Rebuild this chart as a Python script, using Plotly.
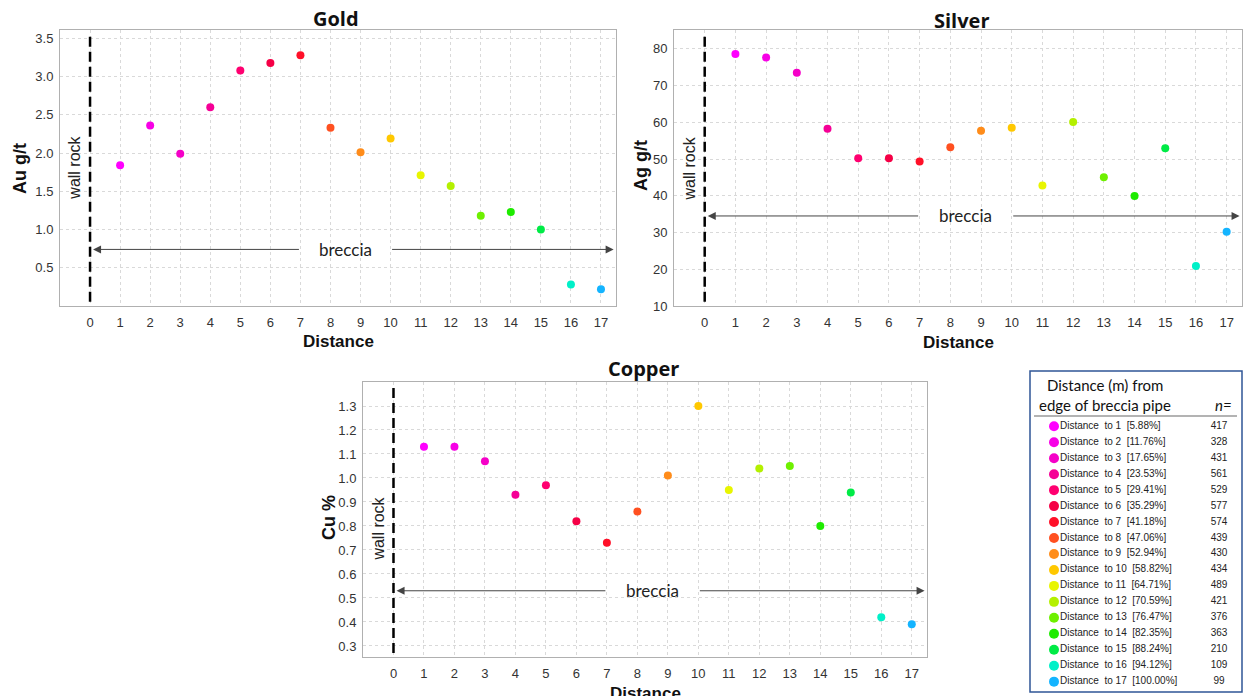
import plotly.graph_objects as go

# Reference picture size; the captured page is 8px taller than the picture and is
# squeezed vertically, so the figure is made 704px tall and positions use REF_H.
REF_W, REF_H = 1246, 696
W, H = 1246, 704

# ---------------- data ----------------
distance = list(range(1, 18))
x_ticks = list(range(0, 18))
gold = [1.84, 2.36, 1.99, 2.60, 3.08, 3.18, 3.28, 2.33, 2.01, 2.19, 1.71, 1.57, 1.18, 1.23, 1.00, 0.28, 0.22]
silver = [78.6, 77.6, 73.5, 58.2, 50.2, 50.2, 49.3, 53.2, 57.7, 58.5, 42.8, 60.1, 45.0, 39.9, 52.9, 20.9, 30.2]
copper = [1.13, 1.13, 1.07, 0.93, 0.97, 0.82, 0.73, 0.86, 1.01, 1.30, 0.95, 1.04, 1.05, 0.80, 0.94, 0.42, 0.39]
colors = ["#FF00FF", "#F700E6", "#F500C8", "#F50096", "#FF0070", "#F50046", "#FF1028",
          "#FF5020", "#FF8C1A", "#FFC800", "#E8F500", "#B4F000", "#6EF000", "#1EEB00",
          "#00EB46", "#00F0C8", "#14B4FF"]
pct_labels = ["5.88%", "11.76%", "17.65%", "23.53%", "29.41%", "35.29%", "41.18%", "47.06%",
              "52.94%", "58.82%", "64.71%", "70.59%", "76.47%", "82.35%", "88.24%", "94.12%",
              "100.00%"]
n_counts = [417, 328, 431, 561, 529, 577, 574, 439, 430, 434, 489, 421, 376, 363, 210, 109, 99]

gold_ticks = [0.5, 1.0, 1.5, 2.0, 2.5, 3.0, 3.5]
silver_ticks = [10, 20, 30, 40, 50, 60, 70, 80]
copper_ticks = [0.3, 0.4, 0.5, 0.6, 0.7, 0.8, 0.9, 1.0, 1.1, 1.2, 1.3]

# ---------------- helpers (reference pixels -> paper fractions) ----------------
def px(x):
    return x / REF_W

def py(y):
    return 1 - y / REF_H

TICKFONT = dict(family="Liberation Sans, Arial, sans-serif", size=13, color="#333333")
AXTITLE = dict(family="Liberation Sans, Arial, sans-serif", size=17, color="#111111")
TITLEFONT = dict(family="Open Sans, sans-serif", size=20, color="#111111")
NOTEFONT = dict(family="Lato, sans-serif", size=17, color="#222222")
WALLFONT = dict(family="Liberation Sans, Arial, sans-serif", size=16, color="#222222")

panels = [
    dict(name="Gold", ytitle="Au g/t", vals=gold, ticks=gold_ticks, fmt=".1f",
         dom=(60, 616, 30, 306), yr=(0.0, 3.61), arrow_y=0.74, wall_y=1.81,
         title_xy=(336, 19), ytitle_xy=(20, 168), xtitle_xy=(338, 341)),
    dict(name="Silver", ytitle="Ag g/t", vals=silver, ticks=silver_ticks, fmt="d",
         dom=(674, 1242, 30, 306), yr=(10, 85.1), arrow_y=34.5, wall_y=47.5,
         title_xy=(962, 20), ytitle_xy=(641, 166), xtitle_xy=(958, 342)),
    dict(name="Copper", ytitle="Cu %", vals=copper, ticks=copper_ticks, fmt=".1f",
         dom=(363, 927, 382, 657), yr=(0.254, 1.40), arrow_y=0.53, wall_y=0.79,
         title_xy=(643, 368), ytitle_xy=(329, 518), xtitle_xy=(645, 693)),
]

fig = go.Figure()
annotations = []
shapes = []
layout_axes = {}

for i, p in enumerate(panels):
    k = "" if i == 0 else str(i + 1)
    xa, ya = "x" + k, "y" + k
    x0, x1, y0, y1 = p["dom"]
    layout_axes["xaxis" + k] = dict(
        domain=[px(x0), px(x1)], range=[-1, 17.5], anchor=ya,
        tickvals=x_ticks, tickfont=TICKFONT, showgrid=True, gridcolor="#d9d9d9",
        griddash="dot", gridwidth=1, showline=True, linecolor="#b0b0b0", linewidth=1,
        mirror=True, ticks="outside", ticklen=4, tickcolor="rgba(0,0,0,0)", zeroline=False,
    )
    layout_axes["yaxis" + k] = dict(
        domain=[py(y1), py(y0)], range=list(p["yr"]), anchor=xa,
        tickvals=p["ticks"], tickformat=p["fmt"], tickfont=TICKFONT, showgrid=True,
        gridcolor="#d9d9d9", griddash="dot", gridwidth=1, showline=True,
        linecolor="#b0b0b0", linewidth=1, mirror=True, ticks="outside", ticklen=3,
        tickcolor="rgba(0,0,0,0)", zeroline=False,
    )
    fig.add_trace(go.Scatter(
        x=distance, y=p["vals"], mode="markers", xaxis=xa, yaxis=ya,
        marker=dict(color=colors, size=8, line=dict(width=0)), showlegend=False,
        hoverinfo="x+y",
    ))
    # dashed wall line at x = 0
    shapes.append(dict(type="line", xref=xa, yref=ya + " domain", x0=0, x1=0,
                       y0=0.015, y1=0.99, line=dict(color="black", width=2.5, dash="10px,5px")))
    # titles
    annotations.append(dict(text="<b>%s</b>" % p["name"], xref="paper", yref="paper",
                            x=px(p["title_xy"][0]), y=py(p["title_xy"][1]),
                            xanchor="center", yanchor="middle", showarrow=False, font=TITLEFONT))
    annotations.append(dict(text="<b>%s</b>" % p["ytitle"], xref="paper", yref="paper",
                            x=px(p["ytitle_xy"][0]), y=py(p["ytitle_xy"][1]), textangle=-90,
                            xanchor="center", yanchor="middle", showarrow=False,
                            font=dict(AXTITLE, size=18)))
    annotations.append(dict(text="<b>Distance</b>", xref="paper", yref="paper",
                            x=px(p["xtitle_xy"][0]), y=py(p["xtitle_xy"][1]),
                            xanchor="center", yanchor="middle", showarrow=False, font=AXTITLE))
    # wall rock label
    annotations.append(dict(text="wall rock", xref=xa, yref=ya, x=-0.5, y=p["wall_y"],
                            textangle=-90, showarrow=False, xanchor="center", yanchor="middle",
                            font=WALLFONT))
    # breccia arrows and label
    ay = p["arrow_y"]
    annotations.append(dict(text="", xref=xa, yref=ya, x=0.1, y=ay, axref=xa, ayref=ya,
                            ax=7.0, ay=ay, showarrow=True, arrowhead=2, arrowsize=1.6,
                            arrowwidth=1, arrowcolor="#444444", standoff=0))
    annotations.append(dict(text="", xref=xa, yref=ya, x=17.42, y=ay, axref=xa, ayref=ya,
                            ax=10.0, ay=ay, showarrow=True, arrowhead=2, arrowsize=1.6,
                            arrowwidth=1, arrowcolor="#444444", standoff=0))
    annotations.append(dict(text="breccia", xref=xa, yref=ya, x=8.5, y=ay, showarrow=False,
                            xanchor="center", yanchor="middle", font=NOTEFONT))

# ---------------- legend panel (own hidden axes, reference-pixel units) ----------------
LX0, LX1, LY0, LY1 = 1030, 1242, 371, 692
layout_axes["xaxis4"] = dict(domain=[px(LX0), px(LX1)], range=[0, LX1 - LX0], visible=False,
                             anchor="y4", fixedrange=True)
layout_axes["yaxis4"] = dict(domain=[py(LY1), py(LY0)], range=[LY1 - LY0, 0], visible=False,
                             anchor="x4", fixedrange=True)

row0, row_step = 55.3, 15.96
rows = [row0 + row_step * i for i in range(len(distance))]
labels = ["Distance\u00a0\u00a0to %d\u00a0\u00a0[%s]" % (d, pc) for d, pc in zip(distance, pct_labels)]
LEGFONT = dict(family="Liberation Sans, Arial, sans-serif", size=10, color="#222222")

fig.add_trace(go.Scatter(x=[24] * len(rows), y=rows, mode="markers", xaxis="x4", yaxis="y4",
                         marker=dict(color=colors, size=10, line=dict(width=0)),
                         showlegend=False, hoverinfo="skip"))
fig.add_trace(go.Scatter(x=[30] * len(rows), y=rows, mode="text", text=labels,
                         textposition="middle right", textfont=LEGFONT, xaxis="x4", yaxis="y4",
                         showlegend=False, hoverinfo="skip"))
fig.add_trace(go.Scatter(x=[189] * len(rows), y=rows, mode="text", text=[str(n) for n in n_counts],
                         textposition="middle center", textfont=LEGFONT, xaxis="x4", yaxis="y4",
                         showlegend=False, hoverinfo="skip"))

HEADFONT = dict(family="Lato, sans-serif", size=15, color="#111111")
annotations.append(dict(text="Distance (m) from", xref="x4", yref="y4", x=75, y=14,
                        showarrow=False, xanchor="center", yanchor="middle", font=HEADFONT))
annotations.append(dict(text="edge of breccia pipe", xref="x4", yref="y4", x=75, y=34,
                        showarrow=False, xanchor="center", yanchor="middle", font=HEADFONT))
annotations.append(dict(text="<i>n=</i>", xref="x4", yref="y4", x=193, y=34,
                        showarrow=False, xanchor="center", yanchor="middle", font=HEADFONT))
shapes.append(dict(type="line", xref="x4", yref="y4", x0=4, x1=207, y0=45, y1=45,
                   line=dict(color="#9a9a9a", width=1.5)))
shapes.append(dict(type="rect", xref="paper", yref="paper", x0=px(LX0), x1=px(LX1),
                   y0=py(LY1), y1=py(LY0), line=dict(color="#2F5597", width=1.5),
                   fillcolor="rgba(0,0,0,0)"))

fig.update_layout(
    width=W, height=H, margin=dict(l=0, r=0, t=0, b=0),
    paper_bgcolor="white", plot_bgcolor="white", showlegend=False,
    annotations=annotations, shapes=shapes, **layout_axes,
)

# remove the browser's default 8px body margin so the figure starts at the window corner
fig.write_html("out.html", config={"displayModeBar": False},
               post_script="document.body.style.margin='0';document.body.style.overflow='hidden';")
